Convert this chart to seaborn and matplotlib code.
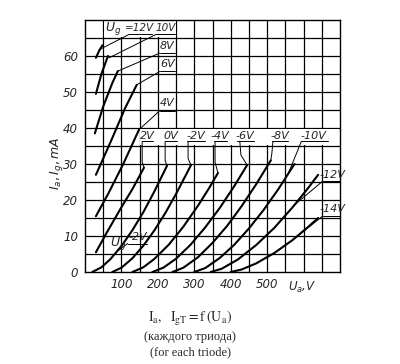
import numpy as np
import pandas as pd
import matplotlib
matplotlib.use("Agg")
import matplotlib.pyplot as plt
from matplotlib.patches import Rectangle
import seaborn as sns

# ---------------- data ----------------
# anode current curves, Ia (mA) vs Ua (V), one per grid voltage Ug
ua_p12 = [30, 39, 48];              ia_p12 = [59.5, 61.5, 63.0]
ua_p10 = [30, 45, 63];              ia_p10 = [49.5, 55.0, 60.0]
ua_p8 = [27, 50, 75, 90];           ia_p8 = [38.5, 46.0, 52.5, 55.8]
ua_p6 = [30, 74, 110, 142];         ia_p6 = [27.0, 37.0, 45.5, 52.0]
ua_p4 = [30, 65, 105, 148];         ia_p4 = [15.5, 22.0, 30.0, 39.5]
ua_p2 = [30, 60, 100, 130, 162];    ia_p2 = [5.5, 11.0, 18.0, 23.0, 29.0]
ua_0 = [20, 45, 70, 100, 130, 160, 190, 225]
ia_0 = [0.0, 1.3, 3.6, 7.2, 11.6, 16.6, 22.3, 29.5]
ua_m2 = [75, 100, 130, 160, 190, 220, 250, 291]
ia_m2 = [0.0, 1.2, 3.8, 7.3, 11.5, 16.3, 21.7, 29.7]
ua_m4 = [130, 160, 190, 230, 270, 310, 340, 365]
ia_m4 = [0.0, 1.3, 3.6, 7.6, 12.6, 18.4, 23.2, 27.5]
ua_m6 = [185, 215, 250, 290, 330, 370, 410, 445]
ia_m6 = [0.0, 1.2, 3.7, 7.6, 12.4, 17.8, 23.9, 29.7]
ua_m8 = [240, 270, 310, 350, 390, 430, 470, 510]
ia_m8 = [0.0, 1.2, 4.1, 8.1, 12.8, 18.3, 24.4, 31.0]
ua_m10 = [300, 330, 370, 410, 450, 490, 530, 575]
ia_m10 = [0.0, 1.1, 3.9, 7.6, 12.1, 17.2, 22.9, 30.0]
ua_m12 = [345, 375, 420, 470, 520, 570, 610, 640]
ia_m12 = [0.0, 0.9, 3.5, 7.5, 12.3, 18.0, 23.0, 27.0]
ua_m14 = [400, 430, 470, 520, 570, 610, 640]
ia_m14 = [0.0, 0.7, 2.4, 5.3, 8.9, 12.3, 15.0]

curve_names = ["+12V", "+10V", "+8V", "+6V", "+4V", "+2V", "0V", "-2V",
               "-4V", "-6V", "-8V", "-10V", "-12V", "-14V"]
curve_ua = [ua_p12, ua_p10, ua_p8, ua_p6, ua_p4, ua_p2, ua_0, ua_m2,
            ua_m4, ua_m6, ua_m8, ua_m10, ua_m12, ua_m14]
curve_ia = [ia_p12, ia_p10, ia_p8, ia_p6, ia_p4, ia_p2, ia_0, ia_m2,
            ia_m4, ia_m6, ia_m8, ia_m10, ia_m12, ia_m14]

x_ticks = [100, 200, 300, 400, 500]
y_ticks = [0, 10, 20, 30, 40, 50, 60]

# ---------------- figure ----------------
sns.set_theme(style="white")
plt.rcParams["font.family"] = ["DejaVu Sans"]

rows = []
for name, xs, ys in zip(curve_names, curve_ua, curve_ia):
    for x, y in zip(xs, ys):
        rows.append({"Ua": x, "I": y, "Ug": name})
df = pd.DataFrame(rows)

fig = plt.figure(figsize=(4.0, 3.64), dpi=100)
ax = fig.add_axes([0.2125, 0.2527, 0.6375, 0.6923])
ax.set_xlim(0, 700)
ax.set_ylim(0, 70)

# grid
for v in range(50, 700, 50):
    ax.axvline(v, color="black", lw=0.9, zorder=1)
for i in range(5, 70, 5):
    ax.axhline(i, color="black", lw=0.9, zorder=1)
# label bands without vertical lines
ax.add_patch(Rectangle((51.5, 65.2), 197, 4.6, facecolor="white", edgecolor="none", zorder=1.5))
ax.add_patch(Rectangle((152, 35.2), 545, 4.6, facecolor="white", edgecolor="none", zorder=1.5))

sns.lineplot(data=df, x="Ua", y="I", units="Ug", estimator=None, sort=False,
             color="black", lw=1.5, ax=ax, zorder=3)

for s in ax.spines.values():
    s.set_color("black")
    s.set_linewidth(1.0)

ax.set_xticks(x_ticks)
ax.set_xticklabels([str(t) for t in x_ticks], fontstyle="italic", fontsize=8.5)
ax.set_yticks(y_ticks)
ax.set_yticklabels([str(t) for t in y_ticks], fontstyle="italic", fontsize=8.5)
ax.tick_params(axis="x", length=0, pad=4)
ax.tick_params(axis="y", length=4, width=1, direction="out", pad=1, color="black")
ax.set_xlabel("")
ax.set_ylabel("$I_a, I_g, mA$", fontsize=9)
ax.yaxis.set_label_coords(-0.08, 0.43)
ax.text(597, -2.2, "$U_a$,V", ha="center", va="top", fontsize=8.5, fontstyle="italic")

lab_kw = dict(fontsize=8, fontstyle="italic", zorder=5)
lead_kw = dict(color="black", lw=0.7, zorder=4)

def label(x, y, s, ul, leader, fs=8):
    ax.text(x, y, s, ha="center", va="center", fontsize=fs, fontstyle="italic", zorder=5)
    ax.plot(ul[0], ul[1], **lead_kw)
    ax.plot(leader[0], leader[1], **lead_kw)

# top-left labels
ax.text(76, 67.6, "$U_g$", ha="center", va="center", fontsize=9, zorder=5)
label(150, 67.8, "=12V", ([121, 184], [66.0, 66.0]), ([121, 38], [66.0, 61.7]), fs=7.5)
label(221, 67.8, "10V", ([195, 246], [66.0, 66.0]), ([195, 66], [66.0, 59.5]), fs=7.5)
label(226, 62.8, "8V", ([205, 246], [60.8, 60.8]), ([205, 90], [60.8, 55.8]))
label(226, 57.8, "6V", ([205, 246], [55.7, 55.7]), ([205, 142], [55.7, 52.0]))
label(226, 46.9, "4V", ([205, 246], [44.8, 44.8]), ([205, 148], [44.8, 39.5]))

# row of labels
label(172, 37.9, "2V", ([157, 188], [36.3, 36.3]), ([157, 157, 162], [36.3, 30.5, 29.0]))
label(236, 37.9, "0V", ([220, 252], [36.3, 36.3]), ([220, 220, 225], [36.3, 31.0, 29.5]))
label(305, 37.9, "-2V", ([281, 330], [36.3, 36.3]), ([283, 283, 291], [36.3, 31.5, 29.7]))
label(371, 37.9, "-4V", ([354, 390], [36.3, 36.3]), ([357, 357, 365], [36.3, 30.5, 27.5]))
label(440, 37.9, "-6V", ([418, 463], [36.3, 36.3]), ([425, 428, 445], [36.3, 32.5, 29.7]))
label(535, 37.9, "-8V", ([514, 558], [36.3, 36.3]), ([516, 513, 510], [36.3, 33.0, 31.0]))
label(628, 37.9, "-10V", ([592, 666], [36.3, 36.3]), ([594, 557], [36.3, 27.1]))

# right labels
label(678, 27.0, "-12V", ([652, 708], [25.2, 25.2]), ([652, 577], [25.2, 18.8]))
label(678, 17.4, "-14V", ([652, 708], [15.5, 15.5]), ([652, 580], [15.5, 9.7]))

# bottom-left label
ax.text(92, 7.8, "$U_g$", ha="center", va="center", fontsize=9, zorder=5)
label(146, 9.8, "-2V", ([117, 170], [7.9, 7.9]), ([117, 91], [7.9, 6.0]))

# caption
cap_kw = dict(ha="center", va="center", family="Liberation Serif")
fig.text(0.475, 0.126, r"$\mathrm{I_a,\ \ I_{gT} = f\,(U_a)}$", fontsize=10,
         math_fontfamily="stix", ha="center", va="center")
fig.text(0.475, 0.074, "(каждого триода)", fontsize=9, **cap_kw)
fig.text(0.475, 0.033, "(for each triode)", fontsize=9, **cap_kw)

fig.savefig("out.png", dpi=100, facecolor="white")
